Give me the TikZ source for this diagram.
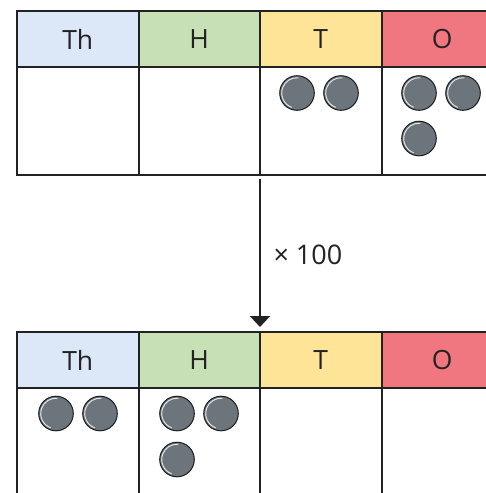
\documentclass[tikz,border=0pt]{standalone}
\usepackage{fontspec}
\setmainfont{Open Sans}
\usetikzlibrary{arrows.meta}
\definecolor{lineC}{HTML}{222222}
\definecolor{thC}{HTML}{DCE8F7}
\definecolor{hC}{HTML}{C8E0B5}
\definecolor{tC}{HTML}{FEE496}
\definecolor{oC}{HTML}{F0767F}
\definecolor{ctrC}{HTML}{6B757B}
\tikzset{
  hdr/.style={draw=lineC, line width=2pt, minimum width=121.5pt, minimum height=56pt,
    inner sep=0pt, outer sep=0pt, anchor=north west, font=\fontsize{26.5}{30}\selectfont, text=lineC},
  body/.style={draw=lineC, line width=2pt, minimum width=121.5pt, minimum height=107.5pt,
    inner sep=0pt, outer sep=0pt, anchor=north west},
  ctr/.pic={
    \fill[ctrC] (0,0) circle (17.3);
    \draw[white!80!ctrC, line width=1pt] (110:15.3) arc (110:275:15.3);
    \draw[lineC!85!black, line width=1pt] (0,0) circle (17.3);
  },
  lbl/.style={font=\fontsize{27}{30}\selectfont, text=lineC}
}
\begin{document}
\begin{tikzpicture}[x=1pt,y=-1pt]
\useasboundingbox (0,0) rectangle (486,493);
\clip (0,0) rectangle (486,493);
% top table
\node[hdr, fill=thC] (tth) at (17,11) {Th};
\node[hdr, fill=hC] (th) at (138.5,11) {H};
\node[hdr, fill=tC] (tt) at (260,11) {T};
\node[hdr, fill=oC] (to) at (381.5,11) {O};
\node[body] (bth) at (17,67) {};
\node[body] (bh) at (138.5,67) {};
\node[body] (bt) at (260,67) {};
\node[body] (bo) at (381.5,67) {};
% counters top
\pic at (297,93) {ctr};
\pic at (341,93) {ctr};
\pic at (419,93) {ctr};
\pic at (463,93) {ctr};
\pic at (419,138.5) {ctr};
% bottom table
\node[hdr, fill=thC] (uth) at (17,332) {Th};
\node[hdr, fill=hC] (uh) at (138.5,332) {H};
\node[hdr, fill=tC] (ut) at (260,332) {T};
\node[hdr, fill=oC] (uo) at (381.5,332) {O};
\node[body] (vth) at (17,388) {};
\node[body] (vh) at (138.5,388) {};
\node[body] (vt) at (260,388) {};
\node[body] (vo) at (381.5,388) {};
% counters bottom
\pic at (56,413.5) {ctr};
\pic at (100,413.5) {ctr};
\pic at (177,413.5) {ctr};
\pic at (221,413.5) {ctr};
\pic at (177,459.5) {ctr};
% arrow
\coordinate (a1) at (260,179);
\coordinate (a2) at (260,327);
\draw[lineC, line width=2pt, -{Triangle[width=20pt,length=11pt]}] (a1) -- (a2);
\node[lbl, anchor=west] (mul) at (270,255) {× 100};
\end{tikzpicture}
\end{document}
